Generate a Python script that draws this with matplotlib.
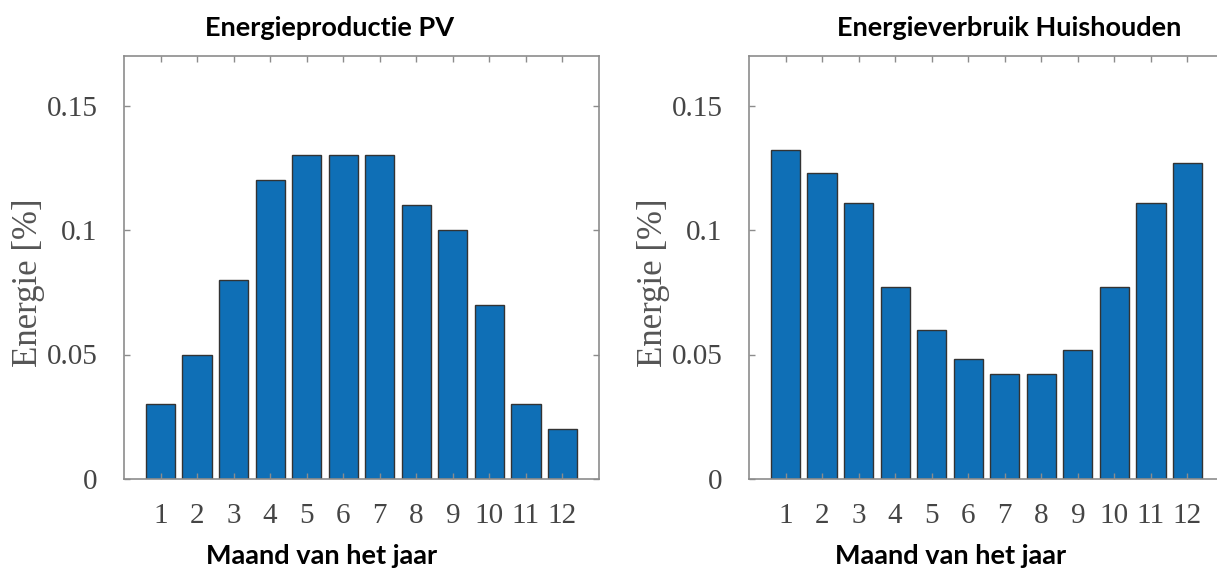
import matplotlib
matplotlib.use('Agg')
import matplotlib.pyplot as plt
import numpy as np

# Data
months = list(range(1, 13))
pv_productie = [0.03, 0.05, 0.08, 0.12, 0.13, 0.13, 0.13, 0.11, 0.10, 0.07, 0.03, 0.02]
huis_verbruik = [0.132, 0.123, 0.111, 0.077, 0.060, 0.048, 0.042, 0.042, 0.052, 0.077, 0.111, 0.127]
titles = ['Energieproductie PV', 'Energieverbruik Huishouden']
y_ticks = [0, 0.05, 0.1, 0.15]
y_ticklabels = ['0', '0.05', '0.1', '0.15']

bar_color = '#0f6fb6'
spine_color = '#8c8c8c'
text_color = '#454545'
serif = ['Liberation Serif', 'DejaVu Serif']
sans = ['Lato', 'DejaVu Sans']

fig = plt.figure(figsize=(12.17, 5.70), dpi=100)

# axes placed in pixels of the reference (left, right, top, bottom)
boxes = [(124, 599), (749, 1224)]
top_px, bot_px = 55.7, 479
W, H = 1217, 570

for (x0, x1), vals, title in zip(boxes, [pv_productie, huis_verbruik], titles):
    ax = fig.add_axes([x0 / W, (H - bot_px) / H, (x1 - x0) / W, (bot_px - top_px) / H])
    ax.bar(months, vals, width=0.8, color=bar_color, edgecolor='#333333', linewidth=1.0)
    ax.set_xlim(0, 13)
    ax.set_ylim(0, 0.17)
    ax.set_xticks(months)
    ax.set_xticklabels([str(m) for m in months], fontfamily=serif, fontsize=21, color=text_color)
    ax.set_yticks(y_ticks)
    ax.set_yticklabels(y_ticklabels, fontfamily=serif, fontsize=21, color=text_color)
    ax.tick_params(direction='in', length=4, width=1, color=spine_color,
                   top=True, right=True)
    ax.tick_params(axis='x', pad=17)
    ax.tick_params(axis='y', pad=19)
    for s in ax.spines.values():
        s.set_color(spine_color)
        s.set_linewidth(1.2)
    ax.set_ylabel('Energie [%]', fontfamily=serif, fontsize=25, color='#555555')
    ax.yaxis.set_label_coords(-0.166, 0.463)

# titles and x labels are positioned on the figure, like the reference
for cx, title in zip([330, 1009], titles):
    fig.text(cx / W, 1 - 28 / H, title, ha='center', va='center',
             fontfamily=sans, fontweight='bold', fontsize=19.5, color='black')
for cx in [322, 951]:
    fig.text(cx / W, 1 - 556 / H, 'Maand van het jaar', ha='center', va='center',
             fontfamily=sans, fontweight='bold', fontsize=19.5, color='black')

fig.savefig('out.png', dpi=100)
